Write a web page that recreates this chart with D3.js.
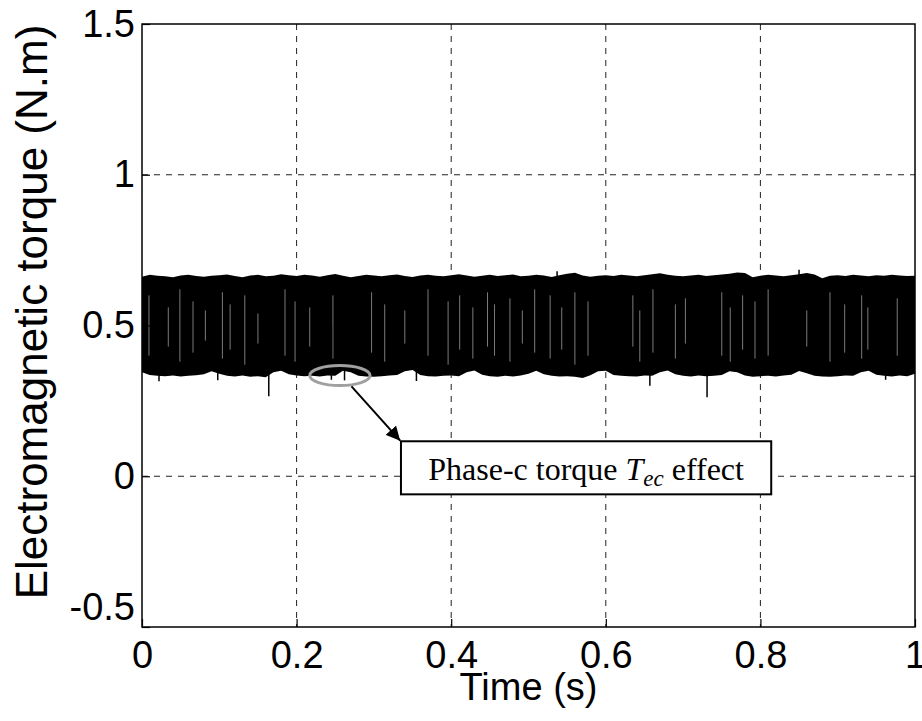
<!DOCTYPE html>
<html>
<head>
<meta charset="utf-8">
<script src="https://cdn.jsdelivr.net/npm/d3@7"></script>
<style>
  body { margin: 0; background: #fff; }
</style>
</head>
<body>
<div id="chart"></div>
<script>
// time base of the envelopes (s), one sample every 0.01 s
const times = d3.range(0, 101).map(i => i / 100);

// upper edge of the switching band (N.m)
const upper = [
  0.662,0.668,0.665,0.663,0.660,0.666,0.668,0.664,0.662,0.665,
  0.667,0.669,0.664,0.660,0.666,0.668,0.663,0.665,0.670,0.667,
  0.664,0.668,0.666,0.662,0.667,0.671,0.665,0.660,0.664,0.668,
  0.666,0.663,0.667,0.669,0.664,0.661,0.666,0.668,0.665,0.663,
  0.667,0.670,0.666,0.662,0.665,0.668,0.664,0.667,0.669,0.663,
  0.665,0.668,0.666,0.661,0.667,0.672,0.675,0.666,0.662,0.665,
  0.667,0.664,0.668,0.666,0.663,0.667,0.670,0.673,0.668,0.665,
  0.663,0.666,0.668,0.664,0.667,0.669,0.672,0.676,0.674,0.660,
  0.665,0.668,0.666,0.663,0.667,0.670,0.674,0.669,0.657,0.665,
  0.667,0.664,0.668,0.666,0.663,0.667,0.665,0.668,0.666,0.664,0.665
];

// lower edge of the switching band (N.m)
const lower = [
  0.345,0.336,0.333,0.332,0.334,0.331,0.333,0.335,0.338,0.348,
  0.340,0.333,0.331,0.334,0.330,0.332,0.328,0.345,0.350,0.338,
  0.334,0.332,0.333,0.331,0.334,0.333,0.350,0.345,0.333,0.331,
  0.330,0.332,0.334,0.336,0.348,0.352,0.336,0.332,0.331,0.333,
  0.334,0.332,0.345,0.351,0.337,0.332,0.330,0.333,0.331,0.334,
  0.340,0.350,0.338,0.333,0.331,0.332,0.330,0.326,0.335,0.348,
  0.350,0.336,0.333,0.332,0.331,0.334,0.333,0.345,0.351,0.338,
  0.333,0.331,0.334,0.332,0.333,0.336,0.348,0.345,0.334,0.330,
  0.332,0.333,0.331,0.334,0.337,0.349,0.342,0.333,0.331,0.330,
  0.332,0.334,0.333,0.345,0.350,0.337,0.333,0.331,0.334,0.332,0.340
];

// isolated excursions beyond the band: [time, torque]
const spikeTimes  = [0.022, 0.098, 0.164, 0.245, 0.262, 0.355, 0.537, 0.657, 0.731, 0.850, 0.962];
const spikeValues = [0.315, 0.318, 0.265, 0.320, 0.318, 0.316, 0.680, 0.300, 0.262, 0.685, 0.320];

// thin light streaks seen inside the dense band (s)
const streakTimes = [
  0.009, 0.034, 0.049, 0.066, 0.082, 0.104, 0.114, 0.133, 0.150, 0.185, 0.198, 0.217, 0.247,
  0.297, 0.314, 0.340, 0.370, 0.396, 0.411, 0.428, 0.447, 0.456, 0.476, 0.492, 0.508,
  0.528, 0.543, 0.560, 0.577, 0.635, 0.644, 0.661, 0.690, 0.703, 0.750, 0.761,
  0.777, 0.793, 0.810, 0.860, 0.890, 0.909, 0.931, 0.939, 0.977
];
const streakTop    = [0.60, 0.56, 0.62, 0.58, 0.55, 0.61, 0.57, 0.60, 0.54, 0.62, 0.58, 0.56, 0.60,
                      0.61, 0.57, 0.55, 0.62, 0.58, 0.60, 0.56, 0.61, 0.57, 0.59, 0.55, 0.62,
                      0.60, 0.56, 0.61, 0.58, 0.60, 0.55, 0.62, 0.57, 0.59, 0.61, 0.56,
                      0.60, 0.58, 0.62, 0.55, 0.61, 0.57, 0.60, 0.56, 0.59];
const streakBottom = [0.40, 0.43, 0.38, 0.41, 0.45, 0.39, 0.42, 0.37, 0.44, 0.40, 0.38, 0.43, 0.39,
                      0.41, 0.38, 0.44, 0.40, 0.37, 0.42, 0.39, 0.43, 0.40, 0.38, 0.44, 0.41,
                      0.39, 0.42, 0.37, 0.40, 0.43, 0.38, 0.41, 0.39, 0.44, 0.40, 0.38,
                      0.42, 0.39, 0.40, 0.43, 0.38, 0.41, 0.39, 0.42, 0.40];

const xTicks = [0, 0.2, 0.4, 0.6, 0.8, 1];
const yTicks = [-0.5, 0, 0.5, 1, 1.5];

const width = 922, height = 721;
const margin = {top: 24, right: 7, bottom: 94, left: 142};

const svg = d3.select("#chart").append("svg")
    .attr("width", width)
    .attr("height", height);

const x = d3.scaleLinear().domain([0, 1]).range([margin.left, width - margin.right]);
const y = d3.scaleLinear().domain([-0.5, 1.5]).range([height - margin.bottom, margin.top]);

// grid
svg.append("g")
    .selectAll("line")
    .data(xTicks.slice(1, -1))
    .join("line")
    .attr("x1", d => x(d)).attr("x2", d => x(d))
    .attr("y1", y(1.5)).attr("y2", y(-0.5))
    .attr("stroke", "#222").attr("stroke-width", 1)
    .attr("stroke-dasharray", "6,6");

svg.append("g")
    .selectAll("line")
    .data(yTicks.slice(1, -1))
    .join("line")
    .attr("x1", x(0)).attr("x2", x(1))
    .attr("y1", d => y(d)).attr("y2", d => y(d))
    .attr("stroke", "#222").attr("stroke-width", 1)
    .attr("stroke-dasharray", "6,6");

// torque band
const band = times.map((t, i) => ({t, hi: upper[i], lo: lower[i]}));
const area = d3.area()
    .x(d => x(d.t))
    .y0(d => y(d.lo))
    .y1(d => y(d.hi));

svg.append("path")
    .datum(band)
    .attr("d", area)
    .attr("fill", "#000");

svg.append("g")
    .selectAll("line")
    .data(streakTimes.map((t, i) => ({t, a: streakTop[i], b: streakBottom[i]})))
    .join("line")
    .attr("x1", d => x(d.t)).attr("x2", d => x(d.t))
    .attr("y1", d => y(d.a)).attr("y2", d => y(d.b))
    .attr("stroke", "#9a9a9a").attr("stroke-width", 0.8);

svg.append("g")
    .selectAll("line")
    .data(spikeTimes.map((t, i) => ({t, v: spikeValues[i]})))
    .join("line")
    .attr("x1", d => x(d.t)).attr("x2", d => x(d.t))
    .attr("y1", y(0.5)).attr("y2", d => y(d.v))
    .attr("stroke", "#000").attr("stroke-width", 1.5);

// axes box
svg.append("rect")
    .attr("x", x(0)).attr("y", y(1.5))
    .attr("width", x(1) - x(0)).attr("height", y(-0.5) - y(1.5))
    .attr("fill", "none").attr("stroke", "#000").attr("stroke-width", 1.5);

const xAxis = d3.axisBottom(x).tickValues(xTicks).tickSize(-8).tickPadding(14)
    .tickFormat(d => String(d));
const yAxis = d3.axisLeft(y).tickValues(yTicks).tickSize(-8).tickPadding(7)
    .tickFormat(d => String(d));

svg.append("g")
    .attr("transform", `translate(0,${y(-0.5)})`)
    .call(xAxis)
    .call(g => g.select(".domain").remove())
    .call(g => g.selectAll("text").attr("dy", "0.71em").attr("fill", "#000"))
    .call(g => g.selectAll("line").attr("stroke-width", 1.2));

svg.append("g")
    .attr("transform", `translate(${x(0)},0)`)
    .call(yAxis)
    .call(g => g.select(".domain").remove())
    .call(g => g.selectAll(".tick text").filter(d => d === -0.5).attr("dy", "-0.2em"))
    .call(g => g.selectAll("text").attr("fill", "#000"))
    .call(g => g.selectAll("line").attr("stroke-width", 1.2));

svg.selectAll(".tick text")
    .style("font-family", "'Liberation Sans', Arial, sans-serif")
    .style("font-size", "38px");

// axis titles
svg.append("text")
    .attr("x", x(0.5)).attr("y", 700)
    .attr("text-anchor", "middle")
    .style("font-family", "'Liberation Sans', Arial, sans-serif")
    .style("font-size", "38px")
    .text("Time (s)");

svg.append("text")
    .attr("transform", `translate(47,312) rotate(-90)`)
    .attr("text-anchor", "middle")
    .style("font-family", "'Liberation Sans', Arial, sans-serif")
    .style("font-size", "44px")
    .text("Electromagnetic torque (N.m)");

// annotation
svg.append("ellipse")
    .attr("cx", x(0.256)).attr("cy", y(0.334))
    .attr("rx", x(0.039) - x(0)).attr("ry", y(0) - y(0.033))
    .attr("fill", "none").attr("stroke", "#a0a0a0").attr("stroke-width", 3);

svg.append("defs").append("marker")
    .attr("id", "arrow")
    .attr("viewBox", "0 0 10 10")
    .attr("refX", 10).attr("refY", 5)
    .attr("markerWidth", 7).attr("markerHeight", 7)
    .attr("orient", "auto")
    .append("path")
    .attr("d", "M0,0 L10,5 L0,10 z")
    .attr("fill", "#000");

svg.append("line")
    .attr("x1", x(0.271)).attr("y1", y(0.298))
    .attr("x2", x(0.334)).attr("y2", y(0.118))
    .attr("stroke", "#000").attr("stroke-width", 2)
    .attr("marker-end", "url(#arrow)");

svg.append("rect")
    .attr("x", x(0.335)).attr("y", y(0.116))
    .attr("width", x(0.814) - x(0.335)).attr("height", y(-0.060) - y(0.116))
    .attr("fill", "#fff").attr("stroke", "#000").attr("stroke-width", 2);

const note = svg.append("text")
    .attr("x", x(0.5745)).attr("y", y(-0.013))
    .attr("text-anchor", "middle")
    .style("font-family", "'Liberation Serif', 'Times New Roman', serif")
    .style("font-size", "32px");
note.append("tspan").text("Phase-c torque ");
note.append("tspan").style("font-style", "italic").text("T");
note.append("tspan").style("font-style", "italic").style("font-size", "23px").attr("dy", 6).text("ec");
note.append("tspan").attr("dy", -6).text(" effect");
</script>
</body>
</html>
